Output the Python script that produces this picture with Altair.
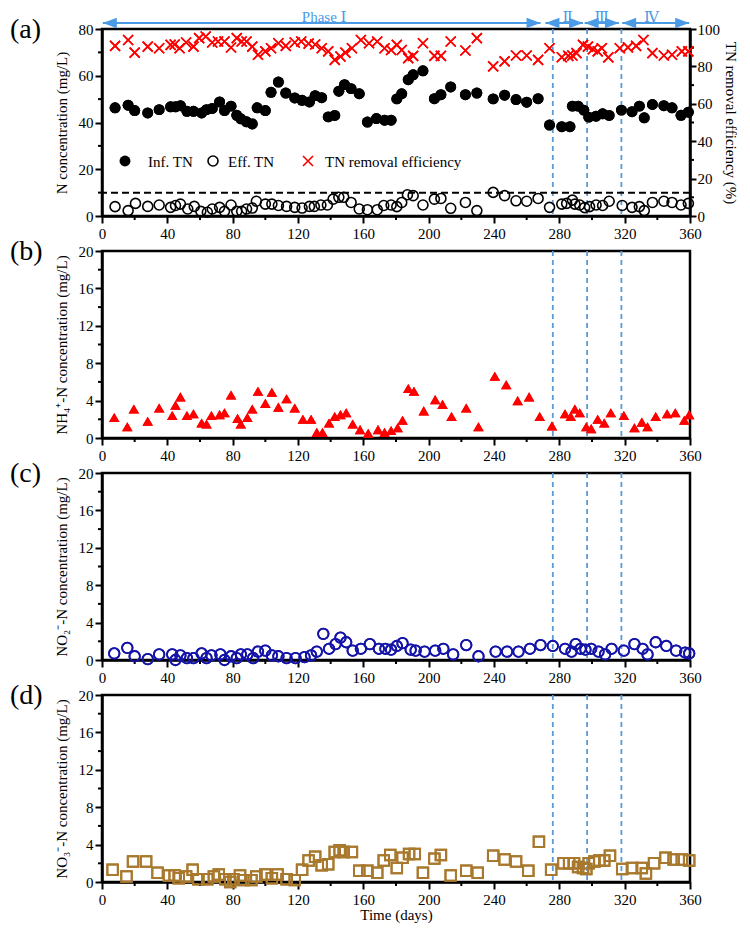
import altair as alt
import pandas as pd

FONT = "Liberation Serif"
W, H = 588, 187
RED = "#FF0000"
NAVY = "#1414A8"
BROWN = "#A8782D"
LBLUE = "#5B9BD5"
ABLUE = "#4A9AE6"

XPATH = "M-1,-1L1,1M-1,1L1,-1"
RIGHT_HEAD = "M0,0L-2,-0.75L-2,0.75Z"
LEFT_HEAD = "M0,0L2,-0.75L2,0.75Z"

# ---------------- data ----------------
x_major = list(range(0, 361, 40))
x_minor = list(range(20, 361, 40))
phase_bounds = [276, 297, 318]
phase_names = ["Phase \u2160", "\u2161", "\u2162", "\u2163"]
phase_start = [0.5, 271.5, 295.5, 318.5]
phase_end = [268.5, 294.5, 316.5, 359.5]
phase_label_x = [136, 285, 306, 336.5]
panel_tags = ["(a)", "(b)", "(c)", "(d)"]
legend_labels = ["Inf. TN", "Eff. TN", "TN removal efficiency"]
tn_limit = [10]

inf_days = [8, 16, 20, 28, 35, 42, 45, 48, 52, 56,
            61, 64, 67.5, 72, 75, 79, 82.5, 85, 88.5, 92,
            95, 100, 103.5, 108, 112.5, 118, 122.5, 127, 130.5, 134.5,
            138.5, 142.5, 145, 148.5, 152.5, 157.5, 162.5, 168, 173, 177,
            180.5, 183.5, 187.5, 190.5, 196.5, 203.5, 207.5, 213.5, 222.5, 229.5,
            239.5, 246.5, 253.5, 260, 267, 274, 281.5, 286.5, 288, 291.5,
            295, 298, 302.5, 306.5, 310.5, 318, 324.5, 329, 332, 337,
            344, 349, 354.5, 359]
inf_vals = [46.3, 47.4, 45.1, 44.1, 45.5, 46.7, 46.7, 47.2, 44.8, 44.8,
            44.1, 45.5, 46.0, 48.8, 45.1, 47.0, 43.1, 41.6, 40.3, 39.4,
            46.3, 45.1, 52.9, 57.3, 52.6, 50.5, 49.5, 48.8, 51.5, 50.6,
            42.4, 43.0, 53.4, 56.2, 54.5, 52.3, 40.2, 41.7, 41.0, 41.0,
            50.1, 52.3, 58.3, 60.4, 62.1, 50.2, 51.9, 55.2, 51.9, 52.6,
            50.1, 51.7, 49.8, 48.7, 50.2, 38.9, 38.2, 38.2, 47.0, 47.0,
            45.3, 42.3, 42.7, 43.7, 43.0, 45.3, 44.6, 47.0, 42.0, 47.7,
            47.2, 46.3, 43.1, 44.4]

eff_days = [8, 16, 20.5, 28, 35, 42, 45, 48, 52.5, 56.5,
            60.5, 64.5, 67.5, 72, 75, 79, 82.5, 85.5, 88.5, 92,
            94.5, 100, 104, 108, 113, 118, 122.5, 127, 130, 134,
            138, 141.5, 145, 148, 152.5, 157.5, 162.5, 168.5, 172.5, 177,
            180.5, 183.5, 187, 190.5, 196.5, 203.5, 207.5, 213.5, 222.5, 229.5,
            239.5, 246.5, 253.5, 260, 267, 274, 281.5, 284.5, 288, 289.5,
            292.5, 295.5, 298.5, 302.5, 306.5, 310.5, 318.5, 324.5, 329, 332,
            337, 344, 349, 354.5, 359]
eff_vals = [4.0, 2.3, 5.4, 4.1, 4.7, 3.7, 4.5, 5.1, 3.0, 4.1,
            2.0, 1.6, 3.0, 3.7, 2.0, 4.7, 2.0, 2.0, 3.0, 3.4,
            6.3, 5.1, 5.1, 4.5, 4.1, 3.7, 3.4, 4.1, 4.1, 4.7,
            4.7, 7.2, 8.0, 8.0, 5.8, 3.0, 2.7, 2.7, 4.5, 4.7,
            4.0, 5.8, 9.1, 8.7, 4.7, 7.2, 7.5, 3.3, 5.8, 2.3,
            10.1, 8.7, 6.5, 6.3, 7.5, 3.7, 5.1, 5.4, 6.8, 5.1,
            4.7, 3.6, 4.0, 4.7, 4.5, 6.3, 4.5, 3.7, 4.0, 2.3,
            5.8, 6.3, 5.8, 4.7, 5.4]

rem_days = [8, 16, 20, 28, 35, 42, 44.5, 47.5, 51.5, 56,
            59.5, 63.5, 67.5, 71, 75, 79, 82.5, 85.5, 88.5, 92,
            95.5, 100, 103.5, 108, 112.5, 118, 122, 126.5, 130.5, 134.5,
            138.5, 142.5, 146, 149, 153, 158.5, 163.5, 168.5, 173, 177,
            180.5, 183.5, 187.5, 190.5, 196.5, 203.5, 207.5, 213.5, 222.5, 229.5,
            239.5, 246.5, 253.5, 260, 267, 274, 281.5, 285.5, 288, 290.5,
            294.5, 297.5, 300.5, 303.5, 306, 310, 317, 322, 327, 331.5,
            337, 344, 349, 355, 359]
rem_vals = [91.0, 94.1, 87.4, 90.6, 89.7, 91.5, 91.7, 89.7, 92.8, 90.6,
            95.1, 96.0, 92.8, 93.3, 93.3, 90.1, 95.1, 93.3, 93.3, 90.6,
            86.2, 88.0, 89.7, 92.4, 91.0, 92.8, 93.3, 92.2, 91.7, 89.7,
            88.0, 83.5, 85.3, 87.4, 89.7, 94.1, 92.4, 93.3, 89.7, 88.8,
            91.5, 88.8, 84.4, 85.6, 92.4, 85.6, 85.6, 93.3, 88.5, 95.1,
            80.0, 82.7, 85.8, 85.8, 83.5, 89.7, 84.9, 85.6, 85.8, 87.1,
            91.5, 90.6, 89.2, 88.0, 89.7, 84.8, 89.7, 90.2, 91.0, 94.1,
            87.1, 85.8, 86.2, 88.0, 88.0]

nh4_days = [7.5, 15.5, 19.5, 28, 35, 43, 45, 48, 52, 56,
            61, 64, 67, 72, 75, 79, 83, 85, 89, 92,
            95.5, 100, 104, 108, 113, 118, 123, 128, 131.5, 135,
            139, 142.5, 146, 149.5, 153.5, 158, 163, 169, 173, 177,
            181, 184, 187.5, 191, 197, 204, 208.5, 214, 223, 230.5,
            240.5, 247.5, 254.5, 261.5, 268, 275.5, 283.5, 287, 289.5, 292.5,
            296.5, 299.5, 303.5, 307.5, 311.5, 319.5, 326, 330.5, 334, 339,
            346, 351, 356.5, 359.5]
nh4_vals = [2.2, 1.2, 3.1, 1.8, 3.2, 2.4, 3.5, 4.4, 2.4, 2.6,
            1.6, 1.5, 2.4, 2.5, 2.7, 4.6, 2.1, 1.5, 2.2, 3.1,
            5.0, 3.7, 4.9, 3.3, 4.2, 3.2, 2.0, 2.0, 0.6, 0.6,
            1.6, 2.3, 2.5, 2.7, 1.5, 0.9, 0.5, 0.9, 0.6, 0.8,
            1.1, 1.9, 5.3, 5.0, 2.9, 4.1, 3.6, 2.3, 3.2, 1.2,
            6.6, 5.7, 4.0, 4.4, 2.3, 1.3, 2.6, 2.3, 3.1, 2.7,
            1.2, 1.0, 2.0, 1.6, 2.7, 2.4, 1.1, 1.7, 1.2, 2.3,
            2.6, 2.7, 1.9, 2.5]

no2_days = [7.5, 15.5, 20, 28, 35, 43, 45, 48, 52, 56,
            61, 64, 67, 72.5, 75, 79, 82.5, 85, 89, 92.5,
            95.5, 100, 104, 108, 113, 118.5, 124, 128, 131.5, 135.5,
            139, 143, 146, 149.5, 153.5, 158.5, 164, 169.5, 173.5, 177,
            180.5, 184, 189, 192, 197.5, 204, 209, 215, 223, 230.5,
            241, 248, 255, 262, 268.5, 276, 283.5, 287.5, 290, 293,
            296, 299.5, 304, 308, 312, 319.5, 326, 331, 334, 339,
            345.5, 351.5, 357, 359.5]
no2_vals = [0.7, 1.3, 0.4, 0.1, 0.6, 0.6, 0.0, 0.5, 0.2, 0.2,
            0.7, 0.2, 0.5, 0.6, 0.0, 0.4, 0.2, 0.6, 0.6, 0.2,
            0.9, 1.0, 0.5, 0.4, 0.2, 0.2, 0.3, 0.5, 0.9, 2.8,
            1.2, 1.7, 2.4, 1.9, 1.0, 1.2, 1.7, 1.2, 1.2, 1.1,
            1.5, 1.8, 1.1, 1.0, 0.9, 1.0, 1.2, 0.6, 1.6, 0.4,
            0.9, 0.9, 0.9, 1.2, 1.6, 1.5, 1.2, 0.9, 1.7, 1.2,
            1.1, 1.2, 0.9, 0.6, 1.2, 1.0, 1.7, 1.2, 0.6, 1.9,
            1.5, 1.0, 0.8, 0.7]

no3_days = [6.5, 15, 19, 27, 34, 41, 44.5, 47, 51.5, 55.5,
            59, 64.5, 68.5, 71.5, 75.5, 78.5, 80.5, 84.5, 86.5, 91.5,
            94.5, 100, 104, 107.5, 113, 118, 122.5, 126.5, 130.5, 134.5,
            138.5, 142.5, 145.5, 148, 153, 157.5, 162.5, 168.5, 172.5, 176.5,
            180.5, 184, 188, 191.5, 196.5, 203.5, 207.5, 213.5, 223, 230,
            239.5, 246.5, 253.5, 261, 267.5, 275, 282.5, 286, 289, 291.5,
            294.5, 296.5, 298, 301.5, 304.5, 307.5, 311, 318.5, 324.5, 330.5,
            333, 338, 345, 350, 355, 359.5]
no3_vals = [1.3, 0.6, 2.2, 2.2, 1.0, 0.7, 0.7, 0.4, 0.6, 1.3,
            0.3, 0.3, 0.6, 0.8, 0.3, 0.0, 0.3, 0.7, 0.2, 0.2,
            0.6, 0.8, 0.4, 0.8, 0.3, 0.2, 1.3, 2.3, 2.7, 1.8,
            1.9, 3.2, 3.4, 3.2, 3.2, 1.2, 1.2, 1.0, 2.3, 2.9,
            1.5, 2.6, 3.0, 3.0, 1.0, 2.5, 2.9, 0.7, 1.2, 1.0,
            2.8, 2.4, 2.2, 1.2, 4.3, 1.3, 2.0, 2.0, 2.0, 1.6,
            1.5, 1.4, 2.0, 2.2, 2.3, 2.3, 2.8, 1.4, 1.5, 1.5,
            0.9, 2.0, 2.6, 2.4, 2.4, 2.3]

left_major_a = [0, 20, 40, 60, 80]
left_minor_a = [10, 30, 50, 70]
right_major = [0, 20, 40, 60, 80, 100]
right_minor = [10, 30, 50, 70, 90]
y20_major = [0, 4, 8, 12, 16, 20]
y20_minor = [2, 6, 10, 14, 18]

# ---------------- helpers ----------------
xs = alt.Scale(domain=[0, 360], nice=False, zero=False)
ys_a = alt.Scale(domain=[0, 80], nice=False, zero=False)
ys_r = alt.Scale(domain=[0, 100], nice=False, zero=False)
ys_20 = alt.Scale(domain=[0, 20], nice=False, zero=False)

X_AXIS = alt.Axis(values=x_major, labelPadding=3, tickSize=7)
RIGHT_AXIS = alt.Axis(orient="right", values=right_major, labelPadding=1, tickSize=6,
                      titlePadding=3, titleAngle=90)


def frame(**cols):
    return pd.DataFrame(cols)


def left_axis(vals):
    return alt.Axis(values=vals, labelPadding=2, tickSize=7, titlePadding=9)


def make_x(xtitle):
    # every layer gets the same axis spec so that the merged axis stays enabled
    def X(field):
        if xtitle:
            return alt.X(field, scale=xs, axis=X_AXIS, title=xtitle)
        return alt.X(field, scale=xs, axis=X_AXIS, title="")
    return X


def make_y(scale, axis, ytitle):
    def Y(field):
        return alt.Y(field, scale=scale, axis=axis, title=ytitle)
    return Y


def vdash(X):
    return alt.Chart(frame(day=phase_bounds)).mark_rule(
        color=LBLUE, strokeDash=[5, 4], strokeWidth=1.8
    ).encode(x=X("day:Q"))


def xminor(X):
    return alt.Chart(frame(day=x_minor)).mark_rule(color="black", strokeWidth=2).encode(
        x=X("day:Q"), y=alt.value(H), y2=alt.value(H + 4)
    )


def yminor(vals, Y, field="val", right=False):
    x0 = W if right else 0
    x1 = W + 4 if right else -4
    return alt.Chart(pd.DataFrame({field: vals})).mark_rule(color="black", strokeWidth=2).encode(
        y=Y(f"{field}:Q"), x=alt.value(x0), x2=alt.value(x1)
    )


def text_at(t, x, y, size=15, align="left", color="black", baseline="middle"):
    return alt.Chart(frame(t=[t])).mark_text(
        align=align, baseline=baseline, fontSize=size, font=FONT, color=color
    ).encode(x=alt.value(x), y=alt.value(y), text="t:N")


def tag(t):
    return text_at(t, -92, 1, size=28)


# ---------------- panel (a) ----------------
Xa = make_x(None)
Ya = make_y(ys_a, left_axis(left_major_a), "N concentration (mg/L)")
Yr = make_y(ys_r, RIGHT_AXIS, "TN removal efficiency (%)")

inf = alt.Chart(frame(day=inf_days, val=inf_vals)).mark_point(
    shape="circle", filled=True, size=120, color="black", opacity=1
).encode(x=Xa("day:Q"), y=Ya("val:Q"))
eff = alt.Chart(frame(day=eff_days, val=eff_vals)).mark_point(
    shape="circle", filled=False, size=100, strokeWidth=1.6, color="black", opacity=1
).encode(x=Xa("day:Q"), y=Ya("val:Q"))

hline = alt.Chart(frame(val=tn_limit)).mark_rule(
    color="black", strokeDash=[7, 4], strokeWidth=2
).encode(y=Ya("val:Q"))

ARROW_Y = -6
phases = frame(s=phase_start, e=phase_end, lx=phase_label_x, name=phase_names)
arrow_line = alt.Chart(phases).mark_rule(color=ABLUE, strokeWidth=2).encode(
    x=Xa("s:Q"), x2="e:Q", y=alt.value(ARROW_Y)
)
head_r = alt.Chart(phases).mark_point(shape=RIGHT_HEAD, filled=True, size=196, color=ABLUE, opacity=1).encode(
    x=Xa("e:Q"), y=alt.value(ARROW_Y)
)
head_l = alt.Chart(phases).mark_point(shape=LEFT_HEAD, filled=True, size=196, color=ABLUE, opacity=1).encode(
    x=Xa("s:Q"), y=alt.value(ARROW_Y)
)
phase_text = alt.Chart(phases).mark_text(
    font="Liberation Serif, DejaVu Serif, serif", fontSize=15, color=ABLUE, baseline="top", align="center"
).encode(x=Xa("lx:Q"), y=alt.value(-19), text="name:N")

leg_y = 132
leg1 = alt.Chart(frame(t=[legend_labels[0]])).mark_point(
    shape="circle", filled=True, size=120, color="black", opacity=1
).encode(x=alt.value(23), y=alt.value(leg_y))
leg2 = alt.Chart(frame(t=[legend_labels[1]])).mark_point(
    shape="circle", filled=False, size=100, strokeWidth=1.6, color="black", opacity=1
).encode(x=alt.value(111), y=alt.value(leg_y))
leg3 = alt.Chart(frame(t=[legend_labels[2]])).mark_point(
    shape=XPATH, filled=False, size=100, strokeWidth=1.6, color=RED, opacity=1
).encode(x=alt.value(206), y=alt.value(leg_y))
legt1 = text_at(legend_labels[0], 46, leg_y + 1)
legt2 = text_at(legend_labels[1], 126, leg_y + 1)
legt3 = text_at(legend_labels[2], 223, leg_y + 1)

left_group = alt.layer(
    inf, vdash(Xa), hline, yminor(left_minor_a, Ya), xminor(Xa),
    arrow_line, head_r, head_l, phase_text,
    leg1, leg2, leg3, legt1, legt2, legt3, tag(panel_tags[0]),
    eff, inf,
)

rem = alt.Chart(frame(day=rem_days, rem=rem_vals)).mark_point(
    shape=XPATH, filled=False, size=100, strokeWidth=1.6, color=RED, opacity=1
).encode(x=Xa("day:Q"), y=Yr("rem:Q"))
right_group = alt.layer(rem, yminor(right_minor, Yr, field="rem", right=True), rem)

panel_a = alt.layer(left_group, right_group).resolve_scale(y="independent").properties(width=W, height=H)


# ---------------- panels (b)-(d) ----------------
def lower_panel(days, vals, mark_kw, ytitle, t, xtitle=None):
    X = make_x(xtitle)
    Y = make_y(ys_20, left_axis(y20_major), ytitle)
    pts = alt.Chart(frame(day=days, val=vals)).mark_point(opacity=1, **mark_kw).encode(
        x=X("day:Q"), y=Y("val:Q"),
    )
    return alt.layer(pts, vdash(X), yminor(y20_minor, Y), xminor(X), tag(t), pts).properties(width=W, height=H)


panel_b = lower_panel(nh4_days, nh4_vals,
                      dict(shape="triangle-up", filled=True, size=110, color=RED),
                      "NH\u2084\u207A-N concentration (mg/L)", panel_tags[1])
panel_c = lower_panel(no2_days, no2_vals,
                      dict(shape="circle", filled=False, size=110, strokeWidth=1.8, color=NAVY),
                      "NO\u2082\u207B-N concentration (mg/L)", panel_tags[2])
panel_d = lower_panel(no3_days, no3_vals,
                      dict(shape="square", filled=False, size=110, strokeWidth=2, color=BROWN),
                      "NO\u2083\u207B-N concentration (mg/L)", panel_tags[3], xtitle="Time (days)")

chart = alt.vconcat(panel_a, panel_b, panel_c, panel_d, spacing=35, bounds="flush").properties(
    padding=0
).configure_axis(
    labelFont=FONT, labelFontSize=15, labelColor="black",
    titleFont=FONT, titleFontSize=15, titleFontWeight="normal", titleColor="black",
    tickColor="black", tickWidth=2, domainColor="black", domainWidth=2.5,
    grid=False, labelFlush=False, labelOverlap=False,
).configure_axisX(titlePadding=0).configure_view(
    stroke="black", strokeWidth=2.5
).configure_text(font=FONT)

chart.save("out.html", embed_options={"renderer": "svg", "actions": False})
